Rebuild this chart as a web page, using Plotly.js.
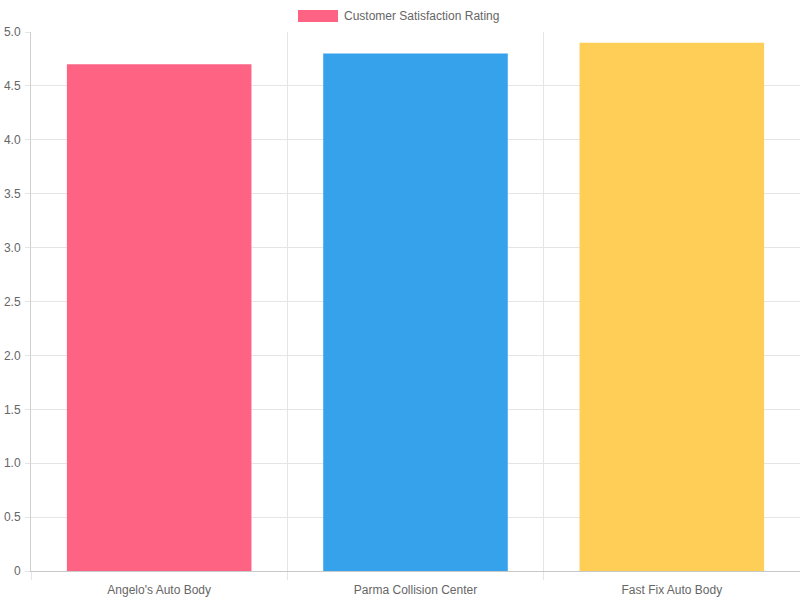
<!DOCTYPE html>
<html>
<head>
<meta charset="utf-8">
<script src="https://cdn.plot.ly/plotly-3.0.1.min.js"></script>
<style>html,body{margin:0;padding:0;background:#fff;}#chart{width:800px;height:600px;}</style>
</head>
<body>
<div id="chart"></div>
<script>
const categories = ["Angelo's Auto Body", "Parma Collision Center", "Fast Fix Auto Body"];
const ratings = [4.7, 4.8, 4.9];
const barColors = ["#FF6384", "#36A2EB", "#FFCE56"];
const seriesName = "Customer Satisfaction Rating";
const yTickVals = [0, 0.5, 1, 1.5, 2, 2.5, 3, 3.5, 4, 4.5, 5];
const yTickText = ["0", "0.5", "1.0", "1.5", "2.0", "2.5", "3.0", "3.5", "4.0", "4.5", "5.0"];

const font = {family: "Liberation Sans, Arial, Helvetica, sans-serif", size: 12, color: "#666"};

const trace = {
  type: "bar",
  x: categories,
  y: ratings,
  name: seriesName,
  marker: {color: barColors, line: {width: 0}},
  width: 0.72,
  showlegend: false,
  hoverinfo: "x+y"
};

const layout = {
  width: 800, height: 600,
  margin: {l: 31, r: 0, t: 32, b: 29, pad: 0},
  paper_bgcolor: "#fff", plot_bgcolor: "#fff",
  font: font,
  showlegend: false,
  xaxis: {
    type: "category",
    range: [-0.5, 2.5],
    tickson: "boundaries",
    ticks: "outside", ticklen: 8, tickcolor: "#e5e5e5", tickwidth: 1,
    ticklabelstandoff: 8,
    showgrid: true, gridcolor: "#e5e5e5", gridwidth: 1,
    showline: true, linecolor: "#c8c8c8", linewidth: 1,
    tickfont: font,
    fixedrange: true
  },
  yaxis: {
    range: [0, 5],
    tickvals: yTickVals, ticktext: yTickText,
    ticks: "outside", ticklen: 5, tickcolor: "#e5e5e5", tickwidth: 1,
    ticklabelstandoff: 2,
    showgrid: true, gridcolor: "#e5e5e5", gridwidth: 1,
    zeroline: false,
    showline: true, linecolor: "#d0d0d0", linewidth: 1,
    tickfont: font,
    fixedrange: true
  },
  shapes: [{
    type: "rect", xref: "paper", yref: "paper",
    x0: (298 - 31) / 769, x1: (338 - 31) / 769,
    y0: (571 - 22) / 539, y1: (571 - 10) / 539,
    fillcolor: barColors[0], line: {width: 0}
  }],
  annotations: [{
    xref: "paper", yref: "paper",
    x: (342 - 31) / 769, y: (571 - 16) / 539,
    xanchor: "left", yanchor: "middle",
    text: seriesName, showarrow: false, font: font
  }]
};

Plotly.newPlot("chart", [trace], layout, {displayModeBar: false, staticPlot: true});
</script>
</body>
</html>
